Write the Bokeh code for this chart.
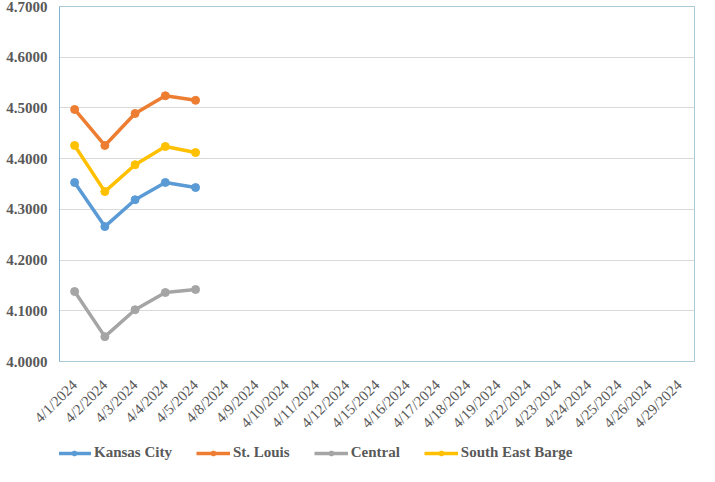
from math import pi
from bokeh.plotting import figure
from bokeh.layouts import column
from bokeh.models import FixedTicker, NumeralTickFormatter, Legend, LegendItem, Range1d
from bokeh.embed import file_html
from bokeh.resources import INLINE

dates = ["4/1/2024", "4/2/2024", "4/3/2024", "4/4/2024", "4/5/2024", "4/8/2024",
         "4/9/2024", "4/10/2024", "4/11/2024", "4/12/2024", "4/15/2024", "4/16/2024",
         "4/17/2024", "4/18/2024", "4/19/2024", "4/22/2024", "4/23/2024", "4/24/2024",
         "4/25/2024", "4/26/2024", "4/29/2024"]
kansas_city = [4.353, 4.266, 4.319, 4.353, 4.343]
st_louis = [4.497, 4.426, 4.489, 4.524, 4.515]
central = [4.138, 4.049, 4.102, 4.136, 4.142]
south_east_barge = [4.426, 4.335, 4.388, 4.424, 4.412]
y_ticks = [4.0, 4.1, 4.2, 4.3, 4.4, 4.5, 4.6, 4.7]

series = [
    ("Kansas City", kansas_city, "#5B9BD5"),
    ("St. Louis", st_louis, "#ED7D31"),
    ("Central", central, "#A5A5A5"),
    ("South East Barge", south_east_barge, "#FFC000"),
]

FONT = "Liberation Serif"
TXT = "#595959"

p = figure(x_range=dates, y_range=Range1d(4.0, 4.7),
           frame_width=635, frame_height=355,
           output_backend="svg", toolbar_location=None,
           min_border_left=59, min_border_right=5, min_border_top=6, min_border_bottom=0)
p.background_fill_color = "white"
p.border_fill_color = "white"
p.outline_line_color = "#a9c9d6"
p.outline_line_width = 1

p.xgrid.grid_line_color = None
p.ygrid.grid_line_color = "#d9d9d9"
p.ygrid.grid_line_width = 1

p.yaxis.ticker = FixedTicker(ticks=y_ticks)
p.yaxis.formatter = NumeralTickFormatter(format="0.0000")
p.yaxis.axis_line_color = "#7fb2d0"
p.yaxis.major_tick_line_color = None
p.yaxis.minor_tick_line_color = None
p.yaxis.major_tick_out = 0
p.yaxis.major_tick_in = 0
p.yaxis.major_label_text_font = FONT
p.yaxis.major_label_text_font_style = "bold"
p.yaxis.major_label_text_font_size = "15px"
p.yaxis.major_label_text_color = TXT
p.yaxis.major_label_standoff = 12

p.xaxis.axis_line_color = None
p.xaxis.major_tick_line_color = None
p.xaxis.minor_tick_line_color = None
p.xaxis.major_tick_out = 0
p.xaxis.major_tick_in = 0
p.xaxis.major_label_orientation = pi / 4
p.xaxis.major_label_text_font = FONT
p.xaxis.major_label_text_font_size = "15px"
p.xaxis.major_label_text_color = TXT
p.xaxis.major_label_standoff = 21

# legend strip: same series through the same x scale, y range excludes data so only the legend shows
lg = figure(x_range=p.x_range, y_range=Range1d(0, 1), width=699, height=31,
            output_backend="svg", toolbar_location=None,
            x_axis_location=None, y_axis_location=None,
            min_border_left=0, min_border_right=0, min_border_top=0, min_border_bottom=0)
lg.outline_line_color = None
lg.grid.grid_line_color = None
lg.background_fill_color = "white"
lg.border_fill_color = "white"

items = []
for name, vals, col in series:
    xs = dates[:len(vals)]
    p.line(xs, vals, line_width=3.5, color=col)
    p.scatter(xs, vals, size=8, color=col)
    ln = lg.line(xs, vals, line_width=3.5, color=col)
    sc = lg.scatter(xs, vals, size=8, color=col)
    items.append(LegendItem(label=name, renderers=[ln, sc]))

legend = Legend(items=items, orientation="horizontal", location=(-2, 9),
                glyph_width=34, glyph_height=12, label_standoff=3, spacing=24,
                label_text_font=FONT, label_text_font_style="bold",
                label_text_font_size="15px", label_text_color=TXT,
                border_line_color=None, background_fill_alpha=0, padding=0,
                margin=0)
lg.add_layout(legend, "center")

layout = column(p, lg, spacing=0)
open("out.html", "w").write(file_html(layout, INLINE))
